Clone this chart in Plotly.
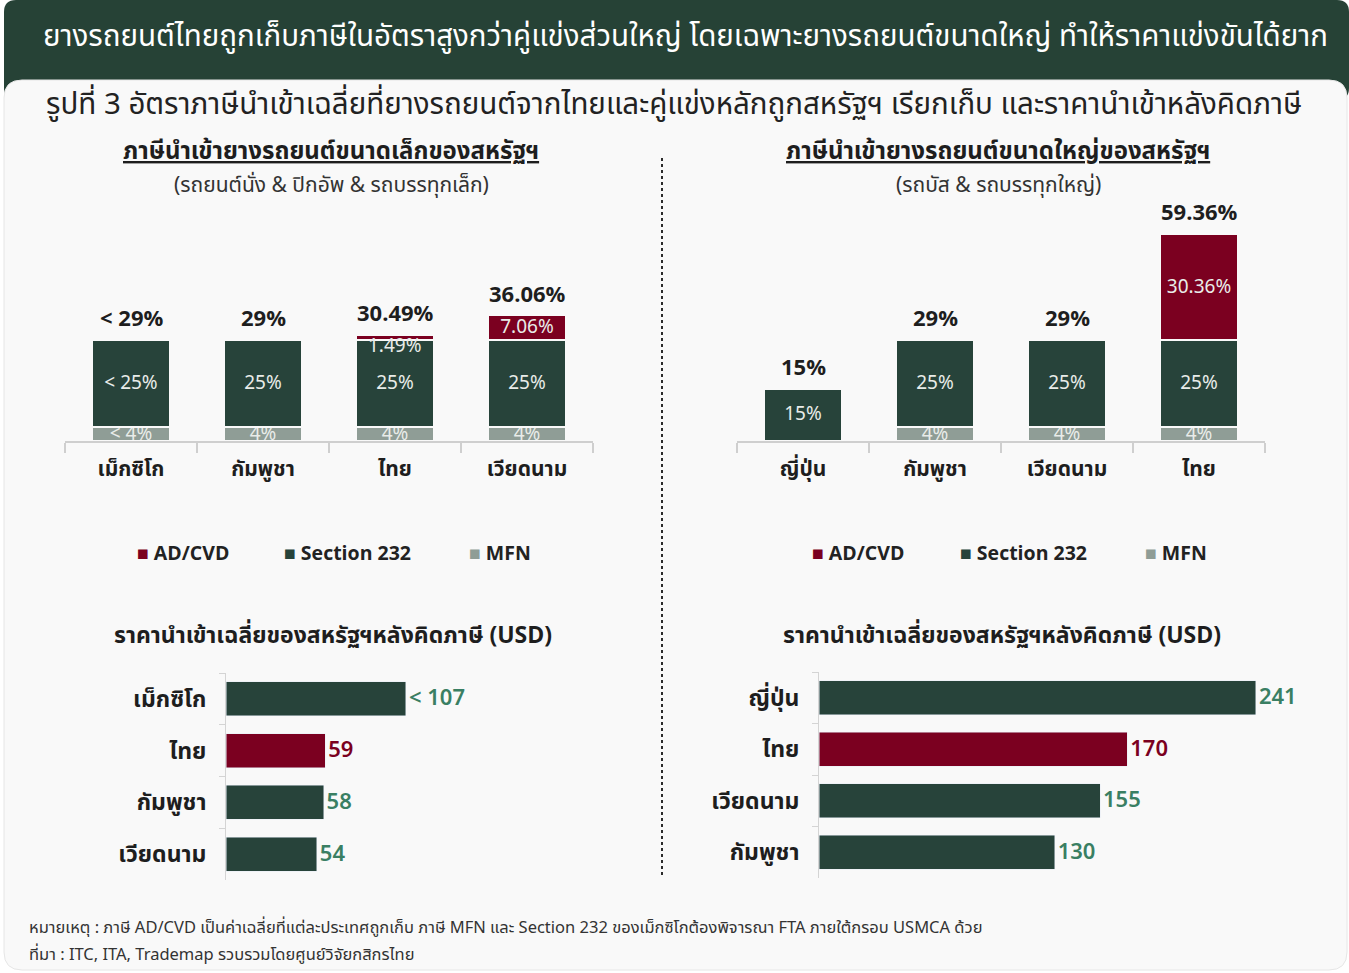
import plotly.graph_objects as go

W, H = 1349, 973

# ---------------- data ----------------
small_countries = ["เม็กซิโก", "กัมพูชา", "ไทย", "เวียดนาม"]
small_mfn = [4, 4, 4, 4]
small_s232 = [25, 25, 25, 25]
small_adcvd = [0, 0, 1.49, 7.06]
small_mfn_lbl = ["< 4%", "4%", "4%", "4%"]
small_s232_lbl = ["< 25%", "25%", "25%", "25%"]
small_adcvd_lbl = ["", "", "1.49%", "7.06%"]
small_total_lbl = ["< 29%", "29%", "30.49%", "36.06%"]

large_countries = ["ญี่ปุ่น", "กัมพูชา", "เวียดนาม", "ไทย"]
large_mfn = [0, 4, 4, 4]
large_s232 = [15, 25, 25, 25]
large_adcvd = [0, 0, 0, 30.36]
large_mfn_lbl = ["", "4%", "4%", "4%"]
large_s232_lbl = ["15%", "25%", "25%", "25%"]
large_adcvd_lbl = ["", "", "", "30.36%"]
large_total_lbl = ["15%", "29%", "29%", "59.36%"]

price_small_countries = ["เม็กซิโก", "ไทย", "กัมพูชา", "เวียดนาม"]
price_small = [107, 59, 58, 54]
price_small_lbl = ["< 107", "59", "58", "54"]

price_large_countries = ["ญี่ปุ่น", "ไทย", "เวียดนาม", "กัมพูชา"]
price_large = [241, 170, 155, 130]
price_large_lbl = ["241", "170", "155", "130"]

# ---------------- styles ----------------
FONT = "Noto Sans Thai, Noto Sans, Roboto, sans-serif"
GREEN = "#27433a"
RED = "#7b0020"
GREY = "#8f9d96"
HEAD = "#264236"
LBL_GREEN = "#3a7f63"
TXT = "#1e1e1e"
IN_TXT = "#e9ece9"
SMALL_SEG = 3  # segments thinner than this get their label placed as an annotation


def px(x):
    return x / W


def py(y):
    return 1 - y / H


fig = go.Figure()
annotations = []

# stacked bar charts
def add_stack(cats, mfn, s232, ad, mfn_l, s_l, ad_l, xa, ya):
    for vals, lbls, col, name in [(mfn, mfn_l, GREY, "MFN"),
                                  (s232, s_l, GREEN, "Section 232"),
                                  (ad, ad_l, RED, "AD/CVD")]:
        shown = []
        for i, (v, l) in enumerate(zip(vals, lbls)):
            if name == "AD/CVD" and 0 < v < SMALL_SEG and l:
                shown.append("")
                annotations.append(dict(x=cats[i], y=mfn[i] + s232[i], xref=xa, yref=ya,
                                        text=l, yanchor="middle", yshift=-6,
                                        font=dict(size=19, color=IN_TXT, family=FONT)))
            else:
                shown.append(l)
        fig.add_trace(go.Bar(
            x=cats, y=vals, text=shown, name=name, xaxis=xa, yaxis=ya,
            marker=dict(color=col, line=dict(color="#f9f9f9", width=1.5)),
            width=0.58, textposition="inside", insidetextanchor="middle",
            textangle=0, constraintext="none",
            textfont=dict(color=IN_TXT, size=19, family=FONT),
            showlegend=False, hoverinfo="skip"))

add_stack(small_countries, small_mfn, small_s232, small_adcvd,
          small_mfn_lbl, small_s232_lbl, small_adcvd_lbl, "x", "y")
add_stack(large_countries, large_mfn, large_s232, large_adcvd,
          large_mfn_lbl, large_s232_lbl, large_adcvd_lbl, "x2", "y2")

# price bar charts
for cats, vals, lbls, xa, ya in [
        (price_small_countries, price_small, price_small_lbl, "x3", "y3"),
        (price_large_countries, price_large, price_large_lbl, "x4", "y4")]:
    fig.add_trace(go.Bar(
        y=cats, x=vals, orientation="h",
        text=lbls, textposition="outside", cliponaxis=False,
        marker=dict(color=[RED if c == "ไทย" else GREEN for c in cats]),
        textfont=dict(color=[RED if c == "ไทย" else LBL_GREEN for c in cats],
                      size=22, family=FONT, weight=600),
        width=0.66, xaxis=xa, yaxis=ya, showlegend=False, hoverinfo="skip"))

# total labels
for cats, mfn, s232, ad, lbls, xa, ya in [
        (small_countries, small_mfn, small_s232, small_adcvd, small_total_lbl, "x", "y"),
        (large_countries, large_mfn, large_s232, large_adcvd, large_total_lbl, "x2", "y2")]:
    for c, a, b, d, l in zip(cats, mfn, s232, ad, lbls):
        annotations.append(dict(x=c, y=a + b + d, xref=xa, yref=ya, text=f"<b>{l}</b>",
                                yanchor="bottom", yshift=3,
                                font=dict(size=22, color=TXT, family=FONT)))

# texts
annotations += [
    dict(x=px(685), y=py(37), text="ยางรถยนต์ไทยถูกเก็บภาษีในอัตราสูงกว่าคู่แข่งส่วนใหญ่ โดยเฉพาะยางรถยนต์ขนาดใหญ่ ทำให้ราคาแข่งขันได้ยาก",
         font=dict(size=29.5, color="white", family=FONT)),
    dict(x=px(674), y=py(105), text="รูปที่ 3 อัตราภาษีนำเข้าเฉลี่ยที่ยางรถยนต์จากไทยและคู่แข่งหลักถูกสหรัฐฯ เรียกเก็บ และราคานำเข้าหลังคิดภาษี",
         font=dict(size=29.5, color="#222", family=FONT)),
    dict(x=px(331), y=py(152), text="<b><u>ภาษีนำเข้ายางรถยนต์ขนาดเล็กของสหรัฐฯ</u></b>",
         font=dict(size=24, color=TXT, family=FONT)),
    dict(x=px(331), y=py(186), text="(รถยนต์นั่ง & ปิกอัพ & รถบรรทุกเล็ก)",
         font=dict(size=21, color="#333", family=FONT)),
    dict(x=px(998), y=py(152), text="<b><u>ภาษีนำเข้ายางรถยนต์ขนาดใหญ่ของสหรัฐฯ</u></b>",
         font=dict(size=24, color=TXT, family=FONT)),
    dict(x=px(998), y=py(186), text="(รถบัส & รถบรรทุกใหญ่)",
         font=dict(size=21, color="#333", family=FONT)),
    dict(x=px(333), y=py(636), text="<b>ราคานำเข้าเฉลี่ยของสหรัฐฯหลังคิดภาษี (USD)</b>",
         font=dict(size=23, color=TXT, family=FONT)),
    dict(x=px(1002), y=py(636), text="<b>ราคานำเข้าเฉลี่ยของสหรัฐฯหลังคิดภาษี (USD)</b>",
         font=dict(size=23, color=TXT, family=FONT)),
    dict(x=px(28), y=py(927), xanchor="left",
         text="หมายเหตุ : ภาษี AD/CVD เป็นค่าเฉลี่ยที่แต่ละประเทศถูกเก็บ ภาษี MFN และ Section 232 ของเม็กซิโกต้องพิจารณา FTA ภายใต้กรอบ USMCA ด้วย",
         font=dict(size=16.5, color="#333", family=FONT)),
    dict(x=px(28), y=py(954), xanchor="left",
         text="ที่มา : ITC, ITA, Trademap รวบรวมโดยศูนย์วิจัยกสิกรไทย",
         font=dict(size=16.5, color="#333", family=FONT)),
]

# legends (manual)
legend_items = [("AD/CVD", RED), ("Section 232", GREEN), ("MFN", GREY)]
for xs in ([140, 287, 472], [815, 963, 1148]):
    for (name, col), x0 in zip(legend_items, xs):
        annotations.append(dict(
            x=px(x0 - 4), y=py(554), xanchor="left",
            text=f"<span style='color:{col}'>■</span> <b>{name}</b>",
            font=dict(size=19.5, color="#222", family=FONT)))

for a in annotations:
    a.setdefault("xref", "paper")
    a.setdefault("yref", "paper")
    a.setdefault("showarrow", False)
    a.setdefault("xanchor", "center")
    a.setdefault("yanchor", "middle")
    a.setdefault("borderpad", 0)

# background shapes
def rounded(x0, y0, x1, y1, r):
    X0, X1 = px(x0), px(x1)
    Y0, Y1 = py(y0), py(y1)
    rx, ry = r / W, r / H
    return (f"M{X0+rx},{Y0} L{X1-rx},{Y0} Q{X1},{Y0} {X1},{Y0-ry} "
            f"L{X1},{Y1+ry} Q{X1},{Y1} {X1-rx},{Y1} L{X0+rx},{Y1} "
            f"Q{X0},{Y1} {X0},{Y1+ry} L{X0},{Y0-ry} Q{X0},{Y0} {X0+rx},{Y0} Z")

shapes = [
    dict(type="path", path=rounded(4, 0, 1349, 100, 12), xref="paper", yref="paper",
         fillcolor=HEAD, line=dict(width=0), layer="below"),
    dict(type="path", path=rounded(4, 80, 1347, 970, 18), xref="paper", yref="paper",
         fillcolor="#f9f9f9", line=dict(color="#e6e6e6", width=1), layer="below"),
    dict(type="line", x0=px(662), x1=px(662), y0=py(158), y1=py(875), xref="paper", yref="paper",
         line=dict(color="#2b2b2b", width=2, dash="dot")),
]

YR = (441 - 205) / 3.48

bar_x = dict(showline=True, linecolor="#cfcfcf", linewidth=1.5, ticks="outside",
             tickson="boundaries", ticklen=10, tickcolor="#cfcfcf", tickwidth=1.5,
             tickfont=dict(size=21, color=TXT, family=FONT, weight="bold"),
             ticklabelstandoff=8,
             showgrid=False, zeroline=False, fixedrange=True)
bar_y = dict(range=[0, YR], visible=False, showgrid=False, zeroline=False)
h_y = dict(showline=True, linecolor="#d4d4d4", linewidth=1, ticks="outside",
           tickson="boundaries", ticklen=6, tickcolor="#d4d4d4", autorange="reversed",
           tickfont=dict(size=23, color=TXT, family=FONT, weight="bold"),
           ticklabelstandoff=14, showgrid=False, zeroline=False)
h_x = dict(visible=False, showgrid=False, zeroline=False)

fig.update_layout(
    width=W, height=H, margin=dict(l=0, r=0, t=0, b=0),
    paper_bgcolor="white", plot_bgcolor="rgba(0,0,0,0)",
    barmode="stack", bargap=0.42,
    uniformtext=dict(minsize=19, mode="show"),
    font=dict(family=FONT),
    xaxis=dict(domain=[px(65), px(593)], anchor="y", **bar_x),
    yaxis=dict(domain=[py(441), py(205)], anchor="x", **bar_y),
    xaxis2=dict(domain=[px(737), px(1265)], anchor="y2", **bar_x),
    yaxis2=dict(domain=[py(441), py(205)], anchor="x2", **bar_y),
    xaxis3=dict(domain=[px(226), px(526)], anchor="y3", range=[0, 300 / 1.682], **h_x),
    yaxis3=dict(domain=[py(880), py(673)], anchor="x3", **h_y),
    xaxis4=dict(domain=[px(819), px(1300)], anchor="y4", range=[0, 481 / 1.813], **h_x),
    yaxis4=dict(domain=[py(878), py(672)], anchor="x4", **h_y),
    annotations=annotations, shapes=shapes,
)

fig.write_html("out.html")
